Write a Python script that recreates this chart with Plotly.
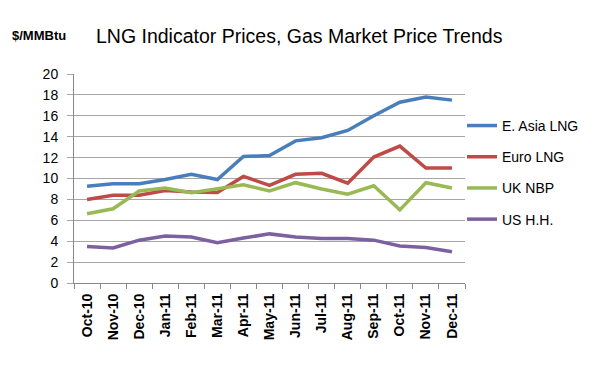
import plotly.graph_objects as go

months = ["Oct-10", "Nov-10", "Dec-10", "Jan-11", "Feb-11", "Mar-11", "Apr-11",
          "May-11", "Jun-11", "Jul-11", "Aug-11", "Sep-11", "Oct-11", "Nov-11", "Dec-11"]
east_asia_lng = [9.25, 9.5, 9.5, 9.9, 10.4, 9.9, 12.1, 12.2, 13.6, 13.9, 14.6, 16.0, 17.3, 17.8, 17.5]
euro_lng = [8.0, 8.4, 8.4, 8.85, 8.7, 8.65, 10.2, 9.35, 10.4, 10.5, 9.55, 12.05, 13.1, 11.0, 11.0]
uk_nbp = [6.63, 7.1, 8.8, 9.1, 8.65, 9.05, 9.4, 8.8, 9.6, 9.0, 8.5, 9.3, 7.0, 9.6, 9.1]
us_hh = [3.5, 3.35, 4.1, 4.5, 4.4, 3.85, 4.3, 4.7, 4.4, 4.25, 4.25, 4.1, 3.55, 3.4, 3.0]

series = [
    ("E. Asia LNG", east_asia_lng, "#4A7EBB"),
    ("Euro LNG", euro_lng, "#BE4B48"),
    ("UK NBP", uk_nbp, "#98B954"),
    ("US H.H.", us_hh, "#7D60A0"),
]
y_ticks = list(range(0, 21, 2))

fig = go.Figure()
for i, (name, vals, color) in enumerate(series):
    fig.add_trace(go.Scatter(x=months, y=vals, name=name, mode="lines",
                             line=dict(color=color, width=3.5), legendgroup=f"g{i}"))

# page body has an 8px margin, so the figure is offset by 8px on screen
W, H = 602, 364
L, T, PW, PH = 66, 66, 391, 209
fig.update_layout(
    width=W, height=H,
    margin=dict(l=L, r=W - L - PW, t=T, b=H - T - PH),
    plot_bgcolor="white", paper_bgcolor="white",
    showlegend=True,
    legend=dict(x=1 - 3 / PW, xanchor="left", y=0.828, yanchor="top", tracegroupgap=10,
                font=dict(family="Liberation Sans", size=14, color="black"),
                itemwidth=30, bgcolor="rgba(0,0,0,0)"),
    xaxis=dict(type="category", showgrid=False, showline=True, linecolor="#888888", linewidth=1,
               ticks="outside", tickson="boundaries", ticklen=5, tickcolor="#888888",
               tickangle=-90, ticklabelstandoff=4,
               tickfont=dict(family="Liberation Sans", size=14, color="black"),
               range=[-0.5, 14.5]),
    yaxis=dict(range=[0, 20], tickvals=y_ticks, showgrid=True, gridcolor="#A6A6A6", gridwidth=1,
               showline=True, linecolor="#888888", linewidth=1, ticks="outside", ticklen=6,
               tickcolor="#A6A6A6", zeroline=False, ticklabelstandoff=6,
               tickfont=dict(family="Liberation Sans", size=14, color="black")),
    annotations=[
        dict(text="LNG Indicator Prices, Gas Market Price Trends", xref="paper", yref="paper",
             x=(86 - L) / PW, y=1 + (T - 28) / PH, xanchor="left", yanchor="middle",
             showarrow=False, font=dict(family="Liberation Sans", size=19.5, color="black")),
        dict(text="<b>$/MMBtu</b>", xref="paper", yref="paper",
             x=(2 - L) / PW, y=1 + (T - 28) / PH, xanchor="left", yanchor="middle",
             showarrow=False, font=dict(family="Liberation Sans", size=13, color="black")),
    ],
)
fig.update_xaxes(tickprefix="<b>", ticksuffix="</b>")
fig.update_yaxes(tickprefix="<b>", ticksuffix="</b>")
fig.write_html("out.html")
